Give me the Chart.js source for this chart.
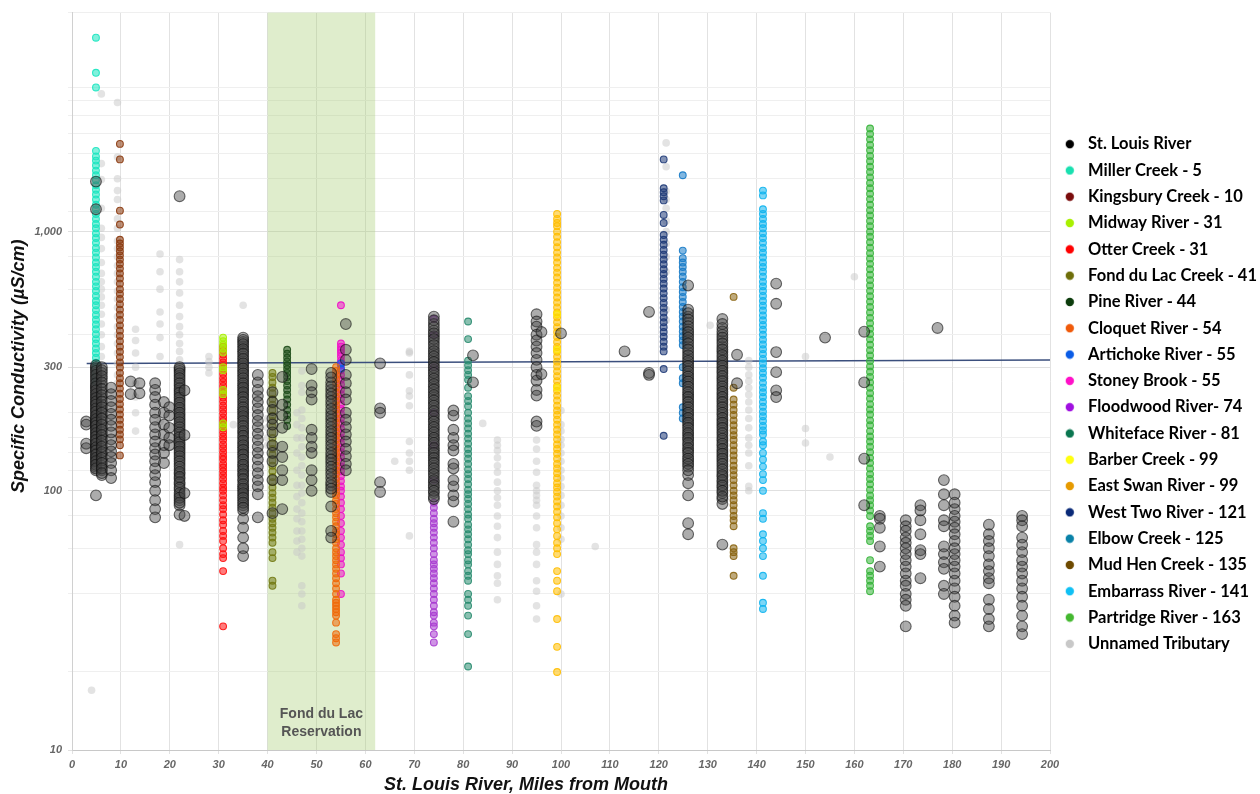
<!DOCTYPE html>
<html>
<head>
<meta charset="utf-8">
<script src="https://cdn.jsdelivr.net/npm/chart.js@4.4.1/dist/chart.umd.min.js"></script>
<style>
  body { margin: 0; background: #fff; }
  canvas { display: block; }
</style>
</head>
<body>
<canvas id="chart" width="1260" height="794"></canvas>
<script>
// Each series: list of [mile, [specific conductivity values]]
const stLouisRiver = [
    [2.9, [185, 180, 152, 146]],
    [4.9, [1560, 1220, 305, 295, 285, 275, 265, 255, 248, 240, 232, 225, 218, 212, 205, 198, 192, 186, 180, 175, 170, 165, 160, 155, 150, 145, 140, 136, 132, 128, 124, 120, 96]],
    [4.9, [300, 290, 280, 270, 260, 252, 244, 236, 228, 221, 215, 208, 202, 195, 189, 183, 178, 172, 167, 162, 157, 152, 147, 143, 138, 134, 130, 126, 122]],
    [6.1, [300, 285, 270, 255, 240, 228, 215, 205, 195, 185, 176, 168, 160, 152, 145, 138, 131, 125, 120, 115]],
    [6.1, [292, 277, 262, 247, 234, 221, 210, 200, 190, 180, 172, 164, 156, 148, 141, 134, 128, 122, 117]],
    [8, [250, 236, 222, 210, 198, 188, 178, 168, 158, 150, 142, 135, 128, 120, 112]],
    [12, [264, 236]],
    [13.8, [260, 238]],
    [17, [260, 245, 230, 215, 200, 188, 176, 165, 155, 146, 138, 130, 122, 115, 108, 100, 92, 85, 79]],
    [18.8, [220, 200, 180, 165, 150, 140, 128]],
    [19.9, [210, 195, 175, 160, 150]],
    [22, [1370, 300, 290, 278, 266, 255, 244, 234, 224, 214, 205, 196, 188, 180, 172, 165, 158, 151, 145, 139, 133, 127, 121, 116, 111, 106, 101, 96, 92, 88, 81]],
    [22, [295, 284, 272, 260, 249, 239, 229, 219, 209, 200, 192, 184, 176, 168, 161, 154, 148, 142, 136, 130, 124, 118, 113, 108, 103, 98, 94, 90]],
    [23, [244, 164, 98, 80]],
    [35, [390, 375, 360, 345, 330, 316, 303, 290, 278, 266, 255, 245, 235, 225, 215, 206, 198, 190, 182, 174, 167, 160, 153, 147, 141, 135, 129, 124, 119, 114, 109, 104, 100, 96, 92, 88, 84, 78, 72, 66, 60, 56]],
    [35, [382, 368, 352, 338, 323, 310, 296, 284, 272, 260, 250, 240, 230, 220, 210, 202, 194, 186, 178, 170, 163, 156, 150, 144, 138, 132, 126, 121, 116, 111, 106, 102, 98, 94, 90, 86]],
    [38, [280, 262, 245, 232, 220, 208, 196, 186, 176, 166, 157, 148, 140, 132, 124, 117, 110, 104, 97, 79]],
    [41, [240, 220, 205, 190, 180, 168, 150, 140, 130, 110, 82]],
    [43, [275, 215, 195, 175, 148, 135, 120, 110, 85]],
    [49, [295, 255, 240, 225, 172, 160, 148, 140, 120, 110, 100]],
    [53, [285, 262, 245, 230, 215, 200, 188, 176, 165, 155, 145, 136, 128, 120, 112, 105, 99, 87, 70, 66]],
    [53, [274, 253, 237, 222, 207, 194, 182, 170, 160, 150, 140, 132, 124, 116, 108, 102]],
    [56, [440, 350, 320, 280, 260, 240, 225, 200, 188, 176, 165, 155, 145, 136, 127, 120]],
    [63, [310, 208, 200, 108, 99]],
    [74, [470, 440, 415, 395, 375, 355, 338, 322, 306, 292, 278, 265, 252, 240, 229, 218, 208, 198, 189, 180, 172, 164, 157, 150, 143, 137, 131, 125, 119, 113, 108, 103, 98, 93]],
    [74, [455, 428, 405, 385, 365, 346, 330, 314, 299, 285, 271, 258, 246, 234, 223, 213, 203, 194, 185, 176, 168, 160, 153, 146, 140, 134, 128, 122, 116, 110, 105, 100, 95]],
    [78, [204, 195, 172, 160, 150, 143, 127, 122, 110, 104, 96, 91, 76]],
    [82, [333, 262]],
    [95, [480, 450, 430, 400, 380, 360, 340, 320, 300, 280, 266, 245, 233, 185, 178]],
    [96, [410, 282]],
    [100, [405]],
    [113, [345]],
    [118, [490, 285, 280]],
    [126, [620, 500, 470, 445, 420, 400, 380, 360, 342, 325, 310, 296, 282, 270, 258, 246, 235, 225, 215, 205, 196, 187, 179, 171, 164, 157, 150, 143, 136, 130, 124, 115, 107, 96, 75, 68]],
    [126, [485, 458, 432, 410, 390, 370, 351, 333, 317, 303, 289, 276, 264, 252, 240, 230, 220, 210, 200, 191, 183, 175, 167, 160, 153, 146, 140, 133, 127, 120]],
    [133, [460, 425, 400, 380, 360, 343, 326, 311, 297, 284, 271, 259, 247, 236, 225, 215, 205, 196, 187, 179, 171, 163, 156, 149, 142, 136, 130, 124, 118, 113, 108, 103, 98, 93, 89, 62]],
    [133, [440, 412, 390, 370, 351, 334, 318, 304, 290, 277, 265, 253, 241, 230, 220, 210, 200, 191, 183, 175, 167, 159, 152, 145, 139, 133, 127, 121, 115, 110, 105, 100, 95]],
    [136, [335, 260]],
    [144, [630, 527, 343, 287, 244, 230]],
    [154, [390]],
    [162, [411, 262, 133, 88]],
    [165.2, [80, 78, 72, 61, 51]],
    [170.5, [77, 73, 70, 66, 63, 60, 57, 54, 51, 48, 45, 43, 40, 38, 36, 30]],
    [173.5, [88, 84, 77, 68, 59, 57, 46]],
    [177, [425]],
    [178.3, [110, 97, 88, 77, 73, 61, 57, 53, 50, 43, 40]],
    [180.5, [97, 90, 85, 80, 76, 72, 68, 64, 60, 57, 54, 51, 48, 45, 42, 39, 36, 33, 31]],
    [187.5, [74, 68, 64, 60, 56, 52, 49, 46, 44, 38, 35, 32, 30]],
    [194.3, [80, 77, 73, 66, 62, 58, 54, 51, 48, 45, 42, 39, 36, 33, 30, 28]]
];
const millerCreek = [
    [4.9, [5600, 4100, 3600, 2050, 1950, 1880, 1800, 1720, 1650, 1580, 1510, 1450, 1390, 1330, 1270, 1220, 1170, 1120, 1070, 1030, 985, 945, 905, 865, 830, 795, 760, 730, 700, 670, 640, 615, 590, 565, 540, 520, 498, 477, 457, 438, 420, 402, 385, 370, 354, 340, 326, 312, 300, 288, 275, 262]]
];
const kingsburyCreek = [
    [9.8, [2180, 1900, 1205, 1065, 930, 900, 870, 840, 810, 780, 750, 720, 690, 660, 630, 600, 575, 550, 525, 500, 478, 456, 435, 415, 396, 378, 360, 344, 328, 313, 299, 285, 272, 260, 248, 237, 226, 216, 206, 197, 188, 180, 172, 165, 158, 150, 137]]
];
const midwayRiver = [
    [30.9, [390, 378, 366, 354, 342, 300, 292, 245, 236, 182, 176]]
];
const otterCreek = [
    [30.9, [360, 348, 336, 324, 313, 302, 292, 282, 272, 263, 254, 245, 237, 229, 221, 213, 206, 199, 192, 186, 180, 174, 168, 162, 157, 151, 146, 141, 136, 132, 127, 123, 119, 115, 111, 107, 103, 100, 96, 92, 88, 85, 81, 77, 74, 70, 67, 64, 60, 57, 55, 49, 30]]
];
const fondDuLacCreek = [
    [41, [285, 275, 262, 250, 238, 226, 215, 205, 195, 186, 177, 168, 160, 152, 145, 138, 131, 125, 119, 113, 108, 103, 98, 94, 90, 86, 82, 78, 75, 72, 69, 66, 63, 58, 55, 45, 43]]
];
const pineRiver = [
    [44, [350, 338, 326, 315, 305, 295, 285, 275, 265, 255, 245, 235, 225, 215, 205, 196, 188, 178]]
];
const cloquetRiver = [
    [54, [300, 290, 280, 270, 260, 250, 240, 231, 222, 214, 206, 198, 190, 183, 176, 169, 163, 157, 151, 145, 140, 135, 130, 125, 120, 116, 111, 107, 103, 99, 96, 92, 89, 85, 82, 79, 76, 73, 70, 68, 65, 63, 60, 58, 56, 54, 52, 50, 48, 46, 44, 42, 40, 38, 37, 36, 35, 34, 33, 31, 28, 27, 26]]
];
const artichokeRiver = [
    [55, [310, 296]]
];
const stoneyBrook = [
    [55, [520, 370, 360, 350, 340, 330, 318, 305, 292, 280, 268, 257, 246, 236, 226, 216, 207, 198, 190, 182, 174, 167, 160, 153, 147, 141, 135, 129, 124, 119, 114, 109, 104, 100, 95, 90, 85, 80, 75, 70, 66, 62, 58, 55, 52, 48, 40]]
];
const floodwoodRiver = [
    [74, [460, 400, 300, 200, 150, 110, 90, 86, 82, 78, 75, 72, 69, 66, 63, 60, 57, 54, 52, 50, 48, 46, 44, 42, 40, 38, 36, 34, 33, 31, 30, 28, 26]]
];
const whitefaceRiver = [
    [81, [450, 385, 318, 305, 292, 280, 268, 250, 232, 222, 212, 200, 190, 182, 174, 166, 159, 152, 145, 139, 133, 127, 121, 116, 111, 106, 101, 97, 93, 89, 85, 81, 78, 74, 71, 68, 65, 62, 59, 57, 54, 52, 49, 47, 45, 40, 38, 36, 33, 28, 21]]
];
const barberCreek = [
    [99.2, [480, 350, 250]]
];
const eastSwanRiver = [
    [99.2, [1170, 1120, 1080, 1050, 1000, 955, 910, 870, 830, 795, 760, 725, 695, 665, 635, 608, 582, 557, 533, 510, 488, 467, 447, 428, 410, 392, 375, 359, 344, 329, 315, 302, 289, 277, 265, 254, 243, 233, 223, 213, 204, 196, 188, 180, 172, 165, 158, 151, 145, 139, 133, 127, 122, 117, 112, 107, 103, 99, 95, 91, 87, 83, 79, 75, 71, 67, 63, 60, 57, 49, 45, 41, 32, 25, 20]]
];
const westTwoRiver = [
    [121, [1900, 1470, 1420, 1370, 1320, 1160, 1080, 970, 930, 890, 850, 815, 780, 748, 716, 686, 657, 630, 603, 578, 554, 531, 508, 487, 466, 447, 428, 410, 393, 376, 360, 345, 295, 163]]
];
const elbowCreek = [
    [124.9, [1650, 845, 790, 760, 730, 700, 670, 640, 610, 585, 560, 535, 512, 490, 470, 450, 430, 412, 395, 380, 365, 300, 272, 260, 210, 200, 190]]
];
const mudHenCreek = [
    [135.3, [560, 250, 225, 215, 205, 196, 187, 179, 171, 164, 157, 150, 143, 137, 131, 125, 120, 115, 110, 105, 100, 96, 92, 88, 84, 80, 77, 73, 60, 58, 56, 47]]
];
const embarrassRiver = [
    [141.3, [1440, 1380, 1220, 1170, 1120, 1070, 1030, 985, 945, 905, 865, 830, 795, 760, 730, 700, 670, 640, 615, 590, 565, 540, 518, 496, 475, 455, 436, 418, 400, 383, 367, 352, 337, 323, 310, 297, 285, 273, 261, 250, 240, 230, 220, 211, 202, 194, 186, 178, 171, 165, 155, 150, 140, 132, 124, 116, 110, 100, 82, 78, 68, 64, 60, 56, 47, 37, 35]]
];
const partridgeRiver = [
    [163.2, [2500, 2380, 2270, 2160, 2060, 1960, 1870, 1780, 1700, 1620, 1540, 1470, 1400, 1335, 1270, 1210, 1155, 1100, 1050, 1000, 955, 910, 867, 826, 788, 751, 716, 682, 650, 620, 591, 563, 537, 512, 488, 465, 443, 422, 403, 384, 366, 349, 333, 317, 302, 288, 275, 262, 250, 238, 227, 216, 206, 197, 187, 179, 170, 162, 155, 148, 141, 134, 128, 122, 116, 111, 106, 101, 96, 92, 88, 84, 80, 73, 70, 67, 64, 54, 49, 47, 45, 43, 41]]
];
const unnamedTributary = [
    [4, [17]],
    [6, [3400, 1830, 1590, 1230, 1030, 950, 860, 760, 690, 640, 600, 560, 520, 480, 440, 400, 360, 330, 300, 270]],
    [9.3, [3150, 1940, 1600, 1440, 1330, 1120, 1030, 920, 860, 800, 740, 690, 640, 590, 550, 510, 470, 430, 400, 370, 340, 310, 280, 260]],
    [13, [420, 380, 340, 300, 260, 230, 200, 170]],
    [18, [820, 700, 600, 490, 440, 390, 330, 185]],
    [22, [780, 700, 640, 580, 520, 470, 430, 400, 370, 345, 320, 62]],
    [28, [330, 315, 300, 285]],
    [33, [180]],
    [35, [520]],
    [40, [190, 175, 160, 150]],
    [44, [245, 220, 200, 185]],
    [46, [200, 180, 160, 140, 120, 105, 95, 85, 78, 70, 64, 58]],
    [47, [290, 255, 240, 205, 190, 175, 160, 148, 135, 125, 115, 105, 98, 90, 82, 76, 70, 65, 60, 56, 43, 40, 36]],
    [66, [130]],
    [69, [345, 340, 280, 243, 232, 213, 155, 140, 130, 120, 67]],
    [84, [182]],
    [87, [157, 150, 143, 134, 125, 118, 108, 100, 94, 88, 80, 73, 66, 58, 52, 47, 44, 38]],
    [95, [157, 145, 130, 118, 105, 100, 96, 92, 88, 80, 72, 62, 58, 52, 45, 41, 36, 32]],
    [100, [204, 180, 170, 158, 150, 140, 130, 120, 112, 104, 96, 88, 80, 72, 65, 40]],
    [107, [61]],
    [121.5, [2200, 1780, 1430, 1330, 1230, 1100, 1000, 900, 800, 700, 500, 455]],
    [130.5, [435]],
    [138.4, [318, 300, 280, 265, 250, 235, 220, 205, 190, 175, 160, 150, 140, 125, 104, 100]],
    [150, [330, 174, 153]],
    [155, [135]],
    [160, [670]]
];

const seriesNames = [
    'St. Louis River', 'Miller Creek - 5', 'Kingsbury Creek - 10', 'Midway River - 31',
    'Otter Creek - 31', 'Fond du Lac Creek - 41', 'Pine River - 44', 'Cloquet River - 54',
    'Artichoke River - 55', 'Stoney Brook - 55', 'Floodwood River- 74', 'Whiteface River - 81',
    'Barber Creek - 99', 'East Swan River - 99', 'West Two River - 121', 'Elbow Creek - 125',
    'Mud Hen Creek - 135', 'Embarrass River - 141', 'Partridge River - 163', 'Unnamed Tributary'
];
const seriesData = [
    stLouisRiver, millerCreek, kingsburyCreek, midwayRiver, otterCreek, fondDuLacCreek,
    pineRiver, cloquetRiver, artichokeRiver, stoneyBrook, floodwoodRiver, whitefaceRiver,
    barberCreek, eastSwanRiver, westTwoRiver, elbowCreek, mudHenCreek, embarrassRiver,
    partridgeRiver, unnamedTributary
];
const pointColors = [
    '#3c3c3c', '#19e6c0', '#8b3a0e', '#a6f000', '#ff1010', '#737a14', '#1e4d1a', '#f06a0a',
    '#0a5ce6', '#f010c8', '#a83cd0', '#2a8c70', '#ffe600', '#ffbe00', '#1f3b78', '#1a7cc8',
    '#8a6410', '#10b4ee', '#36b43a', '#c8c8c8'
];
const legendColors = [
    '#000000', '#19e0b0', '#7a0c0c', '#a8f000', '#ff0000', '#6e6e0a', '#0c3c0c', '#f05a0a',
    '#0a5ce6', '#ff10c8', '#a010e0', '#0a7650', '#ffff10', '#e69a00', '#0a2a78', '#0a82a8',
    '#6e4a00', '#10c0f4', '#44b830', '#c8c8c8'
];

// Reference line (~300 uS/cm)
const refLineMiles = [3, 200];
const refLineValues = [310, 320];

// Shaded reservation band
const reservationMiles = [40, 62];
const reservationLabel = ['Fond du Lac', 'Reservation'];

// Axis ticks
const yGridValues = [10, 20, 40, 60, 80, 100, 120, 140, 160, 200, 300, 400, 600, 800, 1000, 1200, 1600, 2000, 2400, 2800, 3200, 3600, 7000];
const yLabelValues = [10, 100, 300, 1000];

function rgba(hex, a) {
    const n = parseInt(hex.slice(1), 16);
    return `rgba(${(n >> 16) & 255}, ${(n >> 8) & 255}, ${n & 255}, ${a})`;
}

function toPoints(columns) {
    const pts = [];
    columns.forEach(([mile, values]) => {
        values.forEach(v => pts.push({ x: mile, y: v }));
    });
    return pts;
}

function legendDot(color) {
    const c = document.createElement('canvas');
    c.width = 10;
    c.height = 10;
    const g = c.getContext('2d');
    g.fillStyle = color;
    g.beginPath();
    g.arc(5, 5, 4.2, 0, Math.PI * 2);
    g.fill();
    return c;
}

const datasets = seriesNames.map((name, i) => {
    const isMain = i === 0;
    const isUnnamed = i === seriesNames.length - 1;
    return {
        type: 'scatter',
        label: name,
        data: toPoints(seriesData[i]),
        pointRadius: isMain ? 5.4 : (isUnnamed ? 3.8 : 3.4),
        pointBackgroundColor: isMain ? 'rgba(70,70,70,0.45)' : (isUnnamed ? 'rgba(200,200,200,0.5)' : rgba(pointColors[i], 0.55)),
        pointBorderColor: isMain ? 'rgba(15,15,15,0.6)' : (isUnnamed ? 'rgba(200,200,200,0)' : rgba(pointColors[i], 0.9)),
        pointBorderWidth: isUnnamed ? 0 : 1.1
    };
});

datasets.push({
    type: 'line',
    label: 'ref',
    data: refLineMiles.map((m, i) => ({ x: m, y: refLineValues[i] })),
    borderColor: '#3b4f7d',
    borderWidth: 1.5,
    pointRadius: 0,
    fill: false
});

// Shaded band + label
const reservationBand = {
    id: 'reservationBand',
    beforeDatasetsDraw(chart) {
        const { ctx, chartArea, scales } = chart;
        const x0 = scales.x.getPixelForValue(reservationMiles[0]);
        const x1 = scales.x.getPixelForValue(reservationMiles[1]);
        ctx.save();
        ctx.fillStyle = 'rgba(164, 204, 109, 0.35)';
        ctx.fillRect(x0, chartArea.top, x1 - x0, chartArea.bottom - chartArea.top);
        ctx.fillStyle = '#555';
        ctx.font = 'bold 14px "Liberation Sans", Arial, sans-serif';
        ctx.textAlign = 'center';
        const cx = (x0 + x1) / 2;
        ctx.fillText(reservationLabel[0], cx, chartArea.bottom - 32);
        ctx.fillText(reservationLabel[1], cx, chartArea.bottom - 14);
        ctx.restore();
    }
};

const tickFont = { family: '"Liberation Sans Narrow", "Arial Narrow", "Liberation Sans", sans-serif', size: 11, style: 'italic', weight: 'bold' };
const titleFont = { family: '"Liberation Sans", Arial, sans-serif', size: 18, style: 'italic', weight: 'bold' };

new Chart(document.getElementById('chart'), {
    type: 'scatter',
    data: { datasets },
    plugins: [reservationBand],
    options: {
        responsive: false,
        animation: false,
        devicePixelRatio: 1,
        events: [],
        layout: { padding: { top: 12, right: 0, bottom: 18, left: 0 } },
        plugins: {
            tooltip: { enabled: false },
            legend: {
                position: 'right',
                maxWidth: 210,
                labels: {
                    usePointStyle: true,
                    pointStyleWidth: 20,
                    boxHeight: 10,
                    padding: 9.8,
                    color: '#1a1a1a',
                    font: { family: 'Lato, "Noto Sans", sans-serif', size: 16.5, weight: 'bold' },
                    generateLabels: () => seriesNames.map((name, i) => ({
                        text: name,
                        pointStyle: legendDot(legendColors[i]),
                        fillStyle: legendColors[i],
                        strokeStyle: legendColors[i],
                        lineWidth: 0,
                        hidden: false,
                        datasetIndex: i
                    }))
                }
            }
        },
        scales: {
            x: {
                type: 'linear',
                min: 0,
                max: 200,
                ticks: { stepSize: 10, color: '#666', font: tickFont, padding: 4, maxRotation: 0 },
                grid: { color: '#e2e2e2', tickLength: 4 },
                border: { color: '#c8c8c8' },
                title: {
                    display: true,
                    // trailing spaces nudge the centred title left like the original
                    text: 'St. Louis River, Miles from Mouth              ',
                    color: '#111', font: titleFont, padding: { top: 0, bottom: -20 }
                },
                afterFit: (s) => { s.height = 26; }
            },
            y: {
                type: 'logarithmic',
                min: 10,
                max: 7000,
                afterBuildTicks: (s) => { s.ticks = yGridValues.map(v => ({ value: v })); },
                ticks: {
                    autoSkip: false,
                    color: '#666',
                    font: tickFont,
                    padding: 6,
                    callback: (v) => yLabelValues.includes(v) ? v.toLocaleString('en-US') : ''
                },
                grid: {
                    color: (c) => (c.tick && yLabelValues.includes(c.tick.value)) ? '#e0e0e0' : '#efefef',
                    tickLength: 4
                },
                border: { color: '#d0d0d0' },
                title: {
                    display: true,
                    text: '      Specific Conductivity (µS/cm)',
                    color: '#111', font: titleFont, padding: { top: 8, bottom: 4 }
                },
                afterFit: (s) => { s.width = 72; }
            }
        }
    }
});
</script>
</body>
</html>
